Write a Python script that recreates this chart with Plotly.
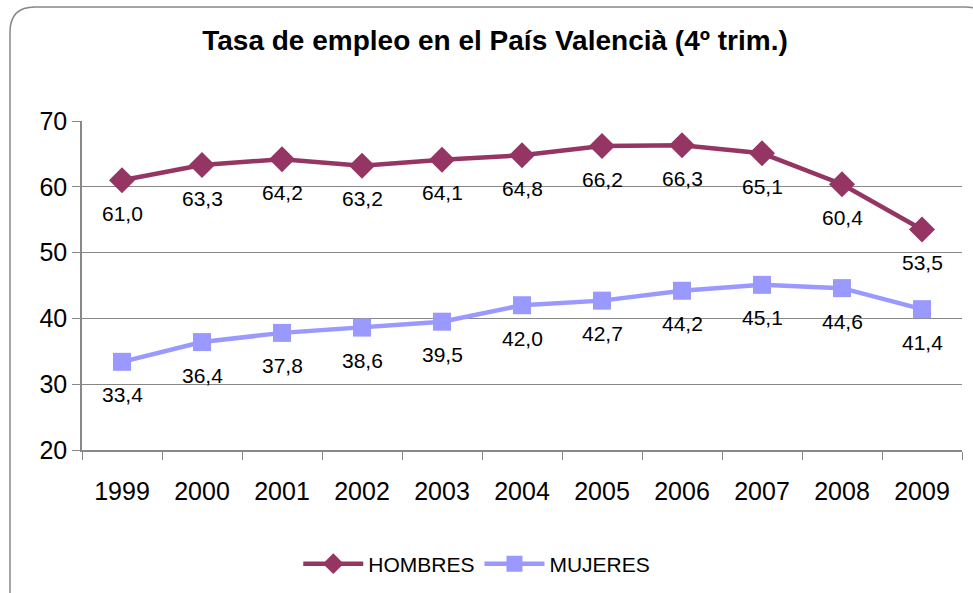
import plotly.graph_objects as go

years = ["1999", "2000", "2001", "2002", "2003", "2004", "2005", "2006", "2007", "2008", "2009"]
hombres = [61.0, 63.3, 64.2, 63.2, 64.1, 64.8, 66.2, 66.3, 65.1, 60.4, 53.5]
mujeres = [33.4, 36.4, 37.8, 38.6, 39.5, 42.0, 42.7, 44.2, 45.1, 44.6, 41.4]
y_ticks = [20, 30, 40, 50, 60, 70]

W, H = 973, 593
L, R, T, B = 82, 11, 121, 143
PW, PH = W - L - R, H - T - B
FONT = "Liberation Sans, Arial"


def px(x):
    return (x - L) / PW


def py(y):
    return (H - B - y) / PH


def fmt(v):
    return f"{v:.1f}".replace(".", ",")


fig = go.Figure()
fig.add_trace(go.Scatter(
    x=years, y=hombres, name="HOMBRES", mode="lines+markers",
    line=dict(color="#953563", width=4.5),
    marker=dict(symbol="diamond", size=20, color="#953563"),
    cliponaxis=False,
))
fig.add_trace(go.Scatter(
    x=years, y=mujeres, name="MUJERES", mode="lines+markers",
    line=dict(color="#9999FF", width=4.5),
    marker=dict(symbol="square", size=18, color="#9999FF"),
    cliponaxis=False,
))

for series in (hombres, mujeres):
    for i, v in enumerate(series):
        fig.add_annotation(x=i, y=v, xref="x", yref="y", text=fmt(v),
                           showarrow=False, yshift=-33,
                           xanchor="center", yanchor="middle",
                           font=dict(family=FONT, size=21, color="#000000"))

# rounded border
r = 25
x0, y0, x1, y1 = 10, 7, 990, 610
path = (
    f"M {px(x0)},{py(y1)} L {px(x0)},{py(y0 + r)} "
    f"Q {px(x0)},{py(y0)} {px(x0 + r)},{py(y0)} "
    f"L {px(x1 - r)},{py(y0)} Q {px(x1)},{py(y0)} {px(x1)},{py(y0 + r)} "
    f"L {px(x1)},{py(y1)}"
)
fig.add_shape(type="path", path=path, xref="paper", yref="paper",
              line=dict(color="#888888", width=1.5), layer="below")

fig.update_layout(
    width=W, height=H,
    margin=dict(l=L, r=R, t=T, b=B),
    paper_bgcolor="white", plot_bgcolor="white",
    font=dict(family=FONT, color="#000000"),
    title=dict(text="<b>Tasa de empleo en el País Valencià (4º trim.)</b>",
               x=495 / W, xref="container", xanchor="center",
               y=1 - 40 / H, yanchor="middle",
               font=dict(size=28, family=FONT, color="#000000")),
    showlegend=True,
    legend=dict(orientation="h", x=0.49, xanchor="center", xref="container",
                y=1 - 564 / H, yanchor="middle", yref="container",
                font=dict(size=21, family=FONT),
                itemwidth=60, bgcolor="rgba(0,0,0,0)"),
    xaxis=dict(
        type="category", showgrid=False, showline=True, linecolor="#888888",
        linewidth=1.5, ticks="outside", tickson="boundaries", ticklen=8,
        tickcolor="#888888", tickfont=dict(size=25), ticklabelstandoff=18,
        range=[-0.5, 10.5],
    ),
    yaxis=dict(
        range=[20, 70], tickvals=y_ticks, showgrid=True, gridcolor="#888888",
        gridwidth=1, showline=True, linecolor="#888888", linewidth=1.5,
        ticks="outside", ticklen=8, tickcolor="#888888",
        tickfont=dict(size=25), zeroline=False,
    ),
)

fig.write_html("out.html", config={"displayModeBar": False},
               post_script="document.body.style.margin='0';")
